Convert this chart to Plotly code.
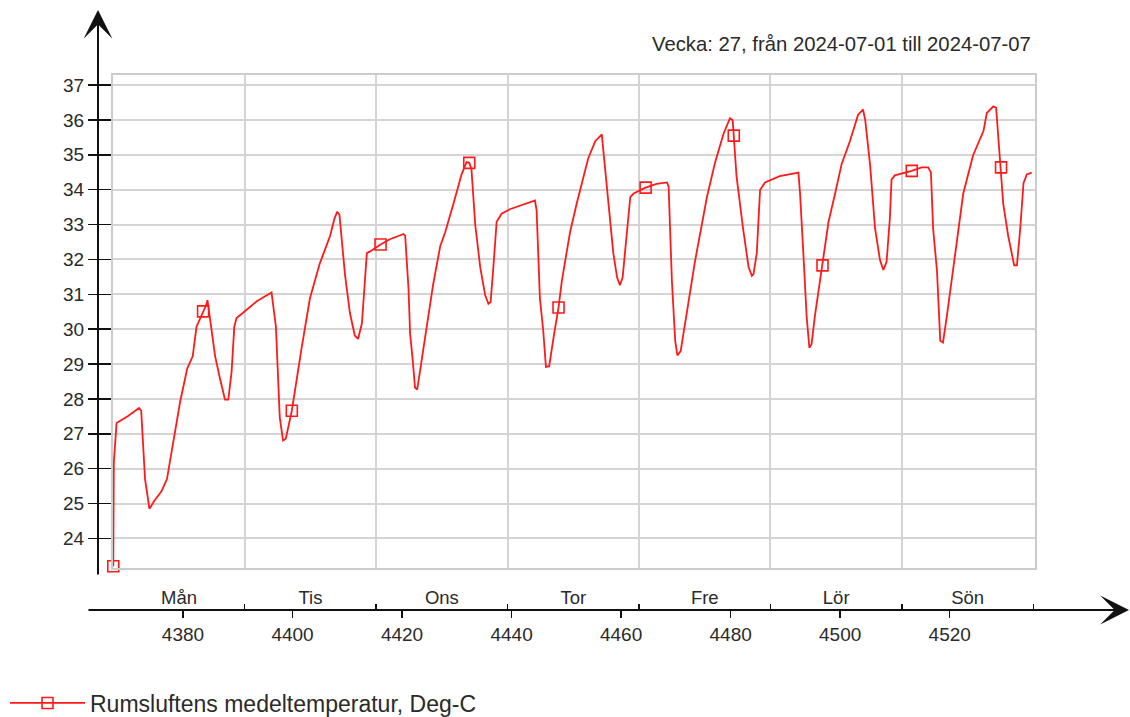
import plotly.graph_objects as go

# ---------------- data ----------------
hours = [
    # Mån
    4368.0, 4368.1, 4368.6, 4370.7, 4372.7, 4373.1, 4373.8, 4374.6, 4375.6, 4376.8, 4377.8, 4380.2, 4381.5,
    4382.5, 4383.2, 4384.9, 4385.2, 4385.5, 4386.6, 4387.5, 4388.4, 4389.0, 4389.6, 4390.1, 4390.5, 4391.7,
    # Tis
    4394.2, 4396.9, 4397.7, 4398.4, 4399.0, 4399.5, 4400.6, 4402.4, 4403.9, 4405.7, 4407.6, 4408.4, 4408.9,
    4409.3, 4410.0, 4410.3, 4411.2, 4412.1, 4412.7, 4413.4, 4414.3, 4414.9,
    # Ons
    4416.8, 4418.5, 4421.0, 4421.3, 4421.9, 4422.2, 4422.7, 4423.1, 4423.5, 4424.3, 4425.2, 4426.4, 4427.7,
    4428.6, 4430.1, 4431.6, 4432.5, 4433.0, 4433.4, 4434.1, 4435.0, 4435.9, 4436.5, 4436.9, 4437.4, 4438.0, 4438.9,
    # Tor
    4440.4, 4445.0, 4445.3, 4445.9, 4446.5, 4447.0, 4447.6, 4448.4, 4449.3, 4449.9, 4451.4, 4452.6, 4454.7,
    4456.0, 4457.2, 4457.5, 4458.4, 4459.3, 4460.0, 4460.5, 4461.0, 4461.8, 4462.4, 4463.0,
    # Fre
    4465.2, 4467.2, 4469.1, 4469.4, 4470.0, 4470.6, 4471.0, 4471.6, 4472.6, 4474.2, 4476.4, 4477.9, 4479.4,
    4480.6, 4481.1, 4481.3, 4481.8, 4483.0, 4484.0, 4484.6, 4484.9, 4485.5, 4486.1, 4487.0,
    # Lör
    4489.7, 4493.1, 4493.4, 4494.0, 4494.6, 4495.1, 4495.5, 4496.1, 4497.5, 4498.6, 4499.8, 4501.0, 4502.5,
    4504.0, 4504.9, 4505.3, 4506.2, 4507.1, 4508.0, 4508.6, 4509.2, 4509.8, 4510.1, 4510.7,
    # Sön
    4513.8, 4515.6, 4516.8, 4517.3, 4517.7, 4518.4, 4519.0, 4519.5, 4520.2, 4521.4, 4523.2, 4525.0, 4526.9,
    4527.5, 4528.7, 4529.2, 4529.6, 4530.1, 4530.5, 4531.4, 4532.5, 4533.0, 4533.6, 4534.2, 4534.8, 4535.7,
]
temps = [
    # Mån
    23.20, 26.16, 27.31, 27.51, 27.74, 27.66, 25.70, 24.85, 25.10, 25.35, 25.70, 27.91, 28.87,
    29.22, 30.07, 30.67, 30.83, 30.47, 29.22, 28.57, 27.98, 27.98, 28.77, 30.07, 30.32, 30.47,
    # Tis
    30.80, 31.05, 30.07, 27.46, 26.81, 26.86, 27.66, 29.47, 30.88, 31.88, 32.68, 33.18, 33.37,
    33.28, 32.00, 31.58, 30.47, 29.82, 29.72, 30.17, 32.18, 32.23,
    # Ons
    32.43, 32.58, 32.73, 32.68, 31.18, 29.87, 29.07, 28.32, 28.27, 29.07, 29.97, 31.28, 32.38,
    32.78, 33.59, 34.44, 34.79, 34.77, 34.59, 32.98, 31.78, 30.98, 30.73, 30.78, 31.78, 33.08, 33.31,
    # Tor
    33.44, 33.69, 33.40, 30.88, 29.97, 28.92, 28.94, 29.77, 30.62, 31.38, 32.78, 33.59, 34.89,
    35.39, 35.59, 35.09, 33.59, 32.18, 31.48, 31.26, 31.48, 32.78, 33.79, 33.89,
    # Fre
    34.06, 34.17, 34.21, 34.09, 31.38, 29.67, 29.25, 29.37, 30.37, 31.93, 33.79, 34.79, 35.59,
    36.05, 35.99, 35.55, 34.39, 32.88, 31.78, 31.53, 31.58, 32.18, 33.99, 34.21,
    # Lör
    34.39, 34.49, 33.89, 32.18, 30.37, 29.47, 29.57, 30.37, 31.83, 33.08, 33.89, 34.74, 35.39,
    36.15, 36.30, 36.00, 34.69, 32.88, 31.98, 31.70, 31.93, 33.18, 34.29, 34.41,
    # Sön
    34.54, 34.64, 34.64, 34.49, 32.88, 31.68, 29.67, 29.62, 30.37, 31.78, 33.89, 34.99, 35.69,
    36.20, 36.39, 36.35, 35.49, 34.64, 33.59, 32.68, 31.83, 31.83, 32.88, 34.19, 34.44, 34.49,
]
assert len(hours) == len(temps)

marker_hours = [4368.0, 4384.4, 4400.6, 4416.8, 4433.0, 4449.3, 4465.2, 4481.3, 4497.5, 4513.8, 4530.1]
marker_temps = [23.20, 30.51, 27.66, 32.43, 34.77, 30.62, 34.06, 35.55, 31.83, 34.54, 34.64]

day_names = ["Mån", "Tis", "Ons", "Tor", "Fre", "Lör", "Sön"]
day_starts = [4368, 4392, 4416, 4440, 4464, 4488, 4512, 4536]
hour_ticks = [4380, 4400, 4420, 4440, 4460, 4480, 4500, 4520]
y_ticks = [24, 25, 26, 27, 28, 29, 30, 31, 32, 33, 34, 35, 36, 37]

title_text = "Vecka: 27, från 2024-07-01 till 2024-07-07"
series_name = "Rumsluftens medeltemperatur, Deg-C"

# ---------------- layout geometry (pixels) ----------------
W, H = 1130, 717
L, R = 113, 1035          # plot box left / right
T, PB = 75, 568           # plot box top / bottom
PAPER_B = 650             # bottom of paper area
AXIS_Y = 610              # x axis arrow line

def px_x(p):
    return (p - L) / (R - L)

def px_y(p):
    return (PAPER_B - p) / (PAPER_B - T)

x_range = [4367.95, 4536.3]
num_shift = 0.73          # numeric hour scale is drawn slightly offset
y_range = [23.15, 37.29]

FONT = "Liberation Sans, Arial, sans-serif"
TXT = "#2a2a2a"
RED = "#ff1a1a"
GRID = "#d4d4d4"
BORDER = "#cccccc"
AX = "#111111"

fig = go.Figure()

fig.add_trace(go.Scatter(
    x=hours, y=temps, mode="lines", line=dict(color=RED, width=1.8),
    showlegend=False, hoverinfo="skip"))
fig.add_trace(go.Scatter(
    x=marker_hours, y=marker_temps, mode="markers", cliponaxis=False,
    marker=dict(symbol="square-open", size=11, color=RED, line=dict(width=1.6, color=RED)),
    showlegend=False, hoverinfo="skip"))
# legend entry
fig.add_trace(go.Scatter(
    x=[None], y=[None], mode="lines+markers", name=series_name,
    line=dict(color=RED, width=1.8),
    marker=dict(symbol="square-open", size=11, color=RED, line=dict(width=1.6, color=RED))))
# carriers for the extra x axes
fig.add_trace(go.Scatter(x=[None], y=[None], xaxis="x2", showlegend=False, hoverinfo="skip"))
fig.add_trace(go.Scatter(x=[None], y=[None], xaxis="x3", showlegend=False, hoverinfo="skip"))

fig.update_layout(
    width=W, height=H,
    margin=dict(l=L, r=W - R, t=T, b=H - PAPER_B, autoexpand=False),
    paper_bgcolor="white", plot_bgcolor="white",
    font=dict(family=FONT, color=TXT),
    hovermode=False,
    xaxis=dict(
        domain=[0, 1], anchor="y", range=x_range,
        tickmode="array", tickvals=day_starts[1:-1], showticklabels=False, ticks="",
        showgrid=True, gridcolor=GRID, gridwidth=2,
        showline=True, mirror=True, linecolor=BORDER, linewidth=2, zeroline=False),
    yaxis=dict(
        domain=[px_y(PB), 1], range=y_range,
        tickmode="array", tickvals=y_ticks,
        ticks="outside", ticklen=23, tickwidth=1.5, tickcolor=AX,
        tickfont=dict(size=19, color=TXT, family=FONT),
        showgrid=True, gridcolor=GRID, gridwidth=2,
        showline=True, mirror=True, linecolor=BORDER, linewidth=2, zeroline=False),
    xaxis2=dict(
        overlaying="x", anchor="free", position=px_y(AXIS_Y), side="top", range=x_range,
        tickmode="array", tickvals=[(a + b) / 2 for a, b in zip(day_starts[:-1], day_starts[1:])],
        ticktext=day_names, ticks="", showgrid=False, showline=False, zeroline=False,
        ticklabelstandoff=2,
        tickfont=dict(size=18.5, color=TXT, family=FONT),
        minor=dict(tickmode="array", tickvals=day_starts[1:], ticks="outside", ticklen=6,
                   tickwidth=1.5, tickcolor=AX, showgrid=False)),
    xaxis3=dict(
        overlaying="x", anchor="free", position=px_y(AXIS_Y), side="bottom",
        range=[v - num_shift for v in x_range],
        tickmode="array", tickvals=hour_ticks,
        ticks="outside", ticklen=7, tickwidth=1.5, tickcolor=AX,
        showgrid=False, showline=False, zeroline=False,
        tickfont=dict(size=19, color=TXT, family=FONT)),
    legend=dict(
        x=px_x(5), y=px_y(703), xanchor="left", yanchor="middle",
        orientation="h", itemwidth=75,
        font=dict(size=23, color=TXT, family=FONT),
        bgcolor="rgba(0,0,0,0)", borderwidth=0),
    annotations=[
        dict(text=title_text, xref="paper", yref="paper", x=px_x(1033), y=px_y(44),
             xanchor="right", yanchor="middle", showarrow=False,
             font=dict(size=20.3, color=TXT, family=FONT)),
        # y axis arrow
        dict(text="", xref="paper", yref="paper", x=px_x(98), y=px_y(10),
             ax=0, ay=576 - 10, showarrow=True, arrowhead=3, arrowsize=2.4,
             arrowwidth=2, arrowcolor=AX, standoff=0, startstandoff=0),
        # x axis arrow
        dict(text="", xref="paper", yref="paper", x=px_x(1130), y=px_y(AXIS_Y),
             ax=87 - 1130, ay=0, showarrow=True, arrowhead=3, arrowsize=2.4,
             arrowwidth=2, arrowcolor=AX, standoff=0, startstandoff=0),
    ],
)

fig.write_html("out.html", post_script="document.body.style.margin='0';",
               config={"displayModeBar": False, "staticPlot": True})
